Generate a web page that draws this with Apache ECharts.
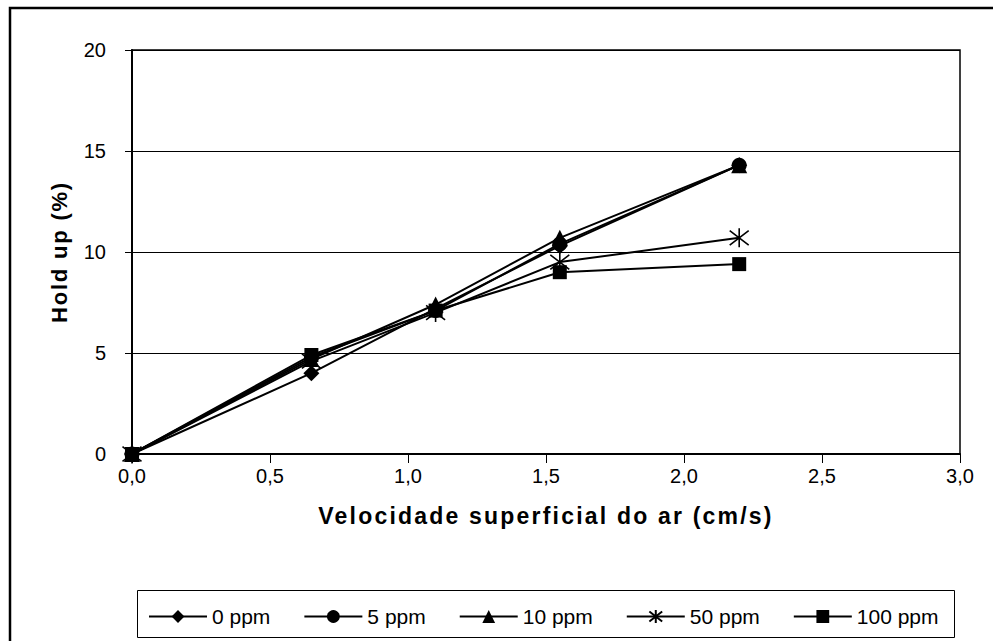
<!DOCTYPE html>
<html>
<head>
<meta charset="utf-8">
<script src="https://cdn.jsdelivr.net/npm/echarts@6/dist/echarts.min.js"></script>
<style>
html,body{margin:0;padding:0;background:#fff;}
#chart{width:993px;height:641px;}
#chart text[style*="23px"]{letter-spacing:2.2px;}
#chart text[style*="22px"]{letter-spacing:1.8px;}
</style>
</head>
<body>
<div id="chart"></div>
<script>
const xValues = [0, 0.65, 1.1, 1.55, 2.2];
const seriesNames = ['0 ppm', '5 ppm', '10 ppm', '50 ppm', '100 ppm'];
const ppm0 = [0, 4.0, 7.2, 10.3, 14.3];
const ppm5 = [0, 4.8, 7.1, 10.4, 14.3];
const ppm10 = [0, 4.7, 7.4, 10.7, 14.3];
const ppm50 = [0, 4.6, 7.0, 9.5, 10.7];
const ppm100 = [0, 4.9, 7.1, 9.0, 9.4];
const xTickLabels = ['0,0', '0,5', '1,0', '1,5', '2,0', '2,5', '3,0'];

const allValues = [ppm0, ppm5, ppm10, ppm50, ppm100];
const symbols = ['diamond', 'circle', 'triangle', 'path://M0,0L10,10M10,0L0,10M5,-1.5L5,11.5', 'rect'];
const symbolSizes = [16, 15, 16, 19, 14];

const font = 'Arial';

const chart = echarts.init(document.getElementById('chart'), null, {renderer: 'svg'});

const series = seriesNames.map((name, i) => ({
  name: name,
  type: 'line',
  data: xValues.map((x, j) => [x, allValues[i][j]]),
  symbol: symbols[i],
  symbolSize: symbolSizes[i],
  showAllSymbol: true,
  clip: false,
  lineStyle: {color: '#000', width: 2},
  itemStyle: {color: '#000', borderColor: '#000', borderWidth: i === 3 ? 1.6 : 0, opacity: 1},
  emphasis: {disabled: true},
  animation: false
}));

chart.setOption({
  animation: false,
  backgroundColor: '#fff',
  grid: {left: 132, right: 33, top: 50, bottom: 187, show: true, borderColor: '#000', borderWidth: 1.5},
  xAxis: {
    type: 'value', min: 0, max: 3, interval: 0.5,
    name: 'Velocidade superficial do ar (cm/s)',
    nameLocation: 'middle', nameGap: 50,
    nameTextStyle: {fontFamily: font, fontSize: 23, fontWeight: 'bold', color: '#000'},
    axisLine: {show: true, lineStyle: {color: '#000', width: 2}},
    axisTick: {show: true, length: 9, lineStyle: {color: '#000', width: 1}},
    axisLabel: {fontFamily: font, fontSize: 20, color: '#000', margin: 12,
      formatter: v => xTickLabels[Math.round(v / 0.5)]},
    splitLine: {show: false}
  },
  yAxis: {
    type: 'value', min: 0, max: 20, interval: 5,
    name: 'Hold up (%)',
    nameLocation: 'middle', nameGap: 62,
    nameTextStyle: {fontFamily: font, fontSize: 22, fontWeight: 'bold', color: '#000'},
    axisLine: {show: true, lineStyle: {color: '#000', width: 2}},
    axisTick: {show: true, length: 7, lineStyle: {color: '#000', width: 1}},
    axisLabel: {fontFamily: font, fontSize: 20, color: '#000', margin: 26},
    splitLine: {show: true, lineStyle: {color: '#000', width: 1}}
  },
  legend: {
    left: 143, top: 601,
    itemWidth: 58, itemHeight: 16, itemGap: 33,
    textStyle: {fontFamily: font, fontSize: 21, color: '#000'},
    data: seriesNames,
    selectedMode: false
  },
  graphic: [
    {type: 'rect', shape: {x: 10, y: 8, width: 1200, height: 900}, style: {fill: 'none', stroke: '#000', lineWidth: 2.5}, silent: true},
    {type: 'rect', shape: {x: 137.5, y: 590.5, width: 817, height: 47}, style: {fill: 'none', stroke: '#000', lineWidth: 1}, silent: true}
  ],
  series: series
});
</script>
</body>
</html>
